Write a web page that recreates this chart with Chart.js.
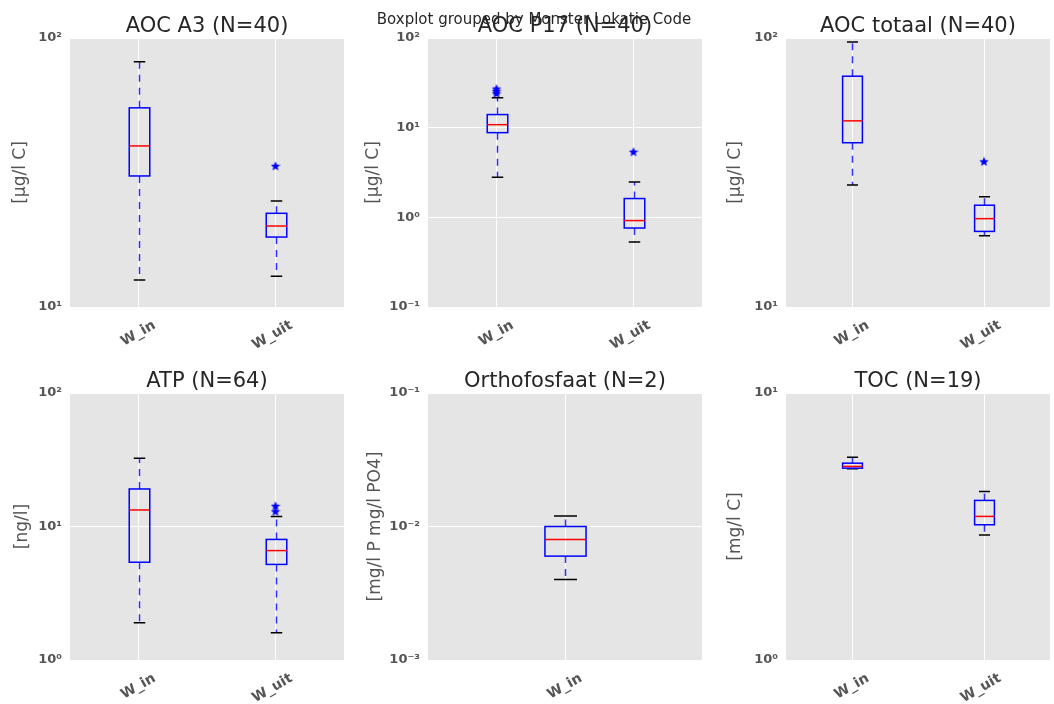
<!DOCTYPE html>
<html>
<head>
<meta charset="utf-8">
<script src="https://cdn.jsdelivr.net/npm/chart.js@4.4.1/dist/chart.umd.min.js"></script>
<style>
  html, body { margin: 0; padding: 0; background: #fff; }
  #fig { position: relative; width: 1054px; height: 704px; overflow: hidden; }
  #fig canvas { position: absolute; }
  #suptitle { position: absolute; left: 7px; width: 1054px; top: 10px; line-height: 17px; text-align: center;
              font: 15px "DejaVu Sans"; color: #262626; z-index: 2; }
</style>
</head>
<body>
<div id="fig">
  <div id="suptitle">Boxplot grouped by Monster Lokatie Code</div>
</div>
<script>
// categories per panel
const categories = ['W_in', 'W_uit'];
const orthoCategories = ['W_in'];

const titles = ['AOC A3 (N=40)', 'AOC P17 (N=40)', 'AOC totaal (N=40)', 'ATP (N=64)', 'Orthofosfaat (N=2)', 'TOC (N=19)'];
const yLabels = ['[μg/l C]', '[μg/l C]', '[μg/l C]', '[ng/l]', '[mg/l P mg/l PO4]', '[mg/l C]'];

// box stats per category: [lower whisker, Q1, median, Q3, upper whisker]
const a3Box = [[12.6, 30.7, 39.7, 55.0, 81.6], [13.0, 18.2, 20.0, 22.3, 24.8]];
const a3Fliers = [[], [33.5]];
const p17Box = [[2.8, 8.8, 10.8, 14.0, 21.6], [0.53, 0.76, 0.92, 1.62, 2.47]];
const p17Fliers = [[24.2, 25.8, 27.3], [5.4]];
const totaalBox = [[28.4, 40.8, 49.2, 72.1, 96.6], [18.4, 19.1, 21.3, 23.9, 25.7]];
const totaalFliers = [[], [34.8]];
const atpBox = [[1.9, 5.4, 13.3, 19.1, 32.4], [1.6, 5.2, 6.6, 8.0, 11.9]];
const atpFliers = [[], [13.0, 14.3]];
const orthoBox = [[0.004, 0.006, 0.008, 0.010, 0.012]];
const orthoFliers = [[]];
const tocBox = [[5.2, 5.23, 5.31, 5.46, 5.75], [2.94, 3.21, 3.45, 3.96, 4.28]];
const tocFliers = [[], []];

// decade ticks and their labels
const a3Ticks = [10, 100];
const p17Ticks = [0.1, 1, 10, 100];
const atpTicks = [1, 10, 100];
const orthoTicks = [0.001, 0.01, 0.1];
const tocTicks = [1, 10];
const a3TickLabels = ['10¹', '10²'];
const p17TickLabels = ['10⁻¹', '10⁰', '10¹', '10²'];
const atpTickLabels = ['10⁰', '10¹', '10²'];
const orthoTickLabels = ['10⁻³', '10⁻²', '10⁻¹'];
const tocTickLabels = ['10⁰', '10¹'];

const panels = [
  { cats: categories, box: a3Box, fliers: a3Fliers, ticks: a3Ticks, tickLabels: a3TickLabels },
  { cats: categories, box: p17Box, fliers: p17Fliers, ticks: p17Ticks, tickLabels: p17TickLabels },
  { cats: categories, box: totaalBox, fliers: totaalFliers, ticks: a3Ticks, tickLabels: a3TickLabels },
  { cats: categories, box: atpBox, fliers: atpFliers, ticks: atpTicks, tickLabels: atpTickLabels },
  { cats: orthoCategories, box: orthoBox, fliers: orthoFliers, ticks: orthoTicks, tickLabels: orthoTickLabels },
  { cats: categories, box: tocBox, fliers: tocFliers, ticks: tocTicks, tickLabels: tocTickLabels }
];

// canvas left, top, width, height | plot left, top, right, bottom | y-label centre x
const frames = [
  [0, 0, 350, 352, 70, 38, 344, 307, 20.5],
  [350, 0, 358, 352, 428, 38, 702, 307, 24],
  [708, 0, 346, 352, 786, 38, 1050, 307, 28],
  [0, 352, 350, 352, 70, 393, 344, 660, 22.5],
  [350, 352, 358, 352, 428, 393, 702, 660, 26],
  [708, 352, 346, 352, 786, 393, 1050, 660, 28]
];

function starImage(size, color) {
  const c = document.createElement('canvas');
  c.width = size; c.height = size;
  const g = c.getContext('2d');
  const r = size / 2, ri = r * 0.45;
  g.beginPath();
  for (let k = 0; k < 10; k++) {
    const a = -Math.PI / 2 + k * Math.PI / 5;
    const rr = k % 2 ? ri : r;
    g.lineTo(r + rr * Math.cos(a), r + 0.5 + rr * Math.sin(a));
  }
  g.closePath();
  g.fillStyle = color;
  g.fill();
  return c;
}

const boxPlugin = {
  id: 'boxes',
  beforeDraw(chart) {
    const { ctx, chartArea: a } = chart;
    ctx.save();
    ctx.fillStyle = '#e5e5e5';
    ctx.fillRect(a.left, a.top, a.right - a.left, a.bottom - a.top);
    ctx.restore();
  },
  afterDatasetsDraw(chart, args, opts) {
    const { ctx, scales: { x, y } } = chart;
    const band = (x.right - x.left) / opts.stats.length;
    opts.stats.forEach((s, i) => {
      const cx = Math.round(x.getPixelForValue(i)) + 0.5;
      const hw = band * 0.075, cw = band * 0.042;
      const [lo, q1, med, q3, hi] = s.map(v => y.getPixelForValue(v));
      ctx.save();
      ctx.lineWidth = 1.5;
      // whiskers
      ctx.strokeStyle = 'rgba(0,0,255,0.8)';
      ctx.setLineDash([7, 6]);
      ctx.beginPath();
      ctx.moveTo(cx, q1); ctx.lineTo(cx, lo);
      ctx.moveTo(cx, q3); ctx.lineTo(cx, hi);
      ctx.stroke();
      ctx.setLineDash([]);
      // caps
      ctx.strokeStyle = '#000';
      ctx.beginPath();
      ctx.moveTo(cx - cw, lo); ctx.lineTo(cx + cw, lo);
      ctx.moveTo(cx - cw, hi); ctx.lineTo(cx + cw, hi);
      ctx.stroke();
      // box
      ctx.strokeStyle = '#0000ff';
      ctx.strokeRect(cx - hw, q3, hw * 2, q1 - q3);
      // median
      ctx.strokeStyle = '#ff0000';
      ctx.beginPath();
      ctx.moveTo(cx - hw, med); ctx.lineTo(cx + hw, med);
      ctx.stroke();
      ctx.restore();
    });
  },
  afterDraw(chart, args, opts) {
    const { ctx, chartArea: a } = chart;
    ctx.save();
    ctx.font = '21px "DejaVu Sans"';
    ctx.fillStyle = '#262626';
    ctx.textAlign = 'center';
    ctx.textBaseline = 'alphabetic';
    ctx.fillText(opts.title, (a.left + a.right) / 2, a.top - 6);
    ctx.restore();
  }
};

const fig = document.getElementById('fig');
const star = starImage(10, '#0000ff');

panels.forEach((p, i) => {
  const [cl, ct, cw, ch, pl, pt, pr, pb, lx] = frames[i];
  const cv = document.createElement('canvas');
  cv.width = cw; cv.height = ch;
  cv.style.left = cl + 'px'; cv.style.top = ct + 'px';
  cv.style.width = cw + 'px'; cv.style.height = ch + 'px';
  fig.appendChild(cv);

  const flierData = [];
  p.fliers.forEach((arr, k) => arr.forEach(v => flierData.push({ x: p.cats[k], y: v })));

  new Chart(cv, {
    type: 'line',
    data: {
      labels: p.cats,
      datasets: [{ data: flierData, showLine: false, pointStyle: star, pointRadius: 4, borderWidth: 0 }]
    },
    options: {
      responsive: false,
      animation: false,
      events: [],
      layout: { padding: { left: 0, top: pt - ct, right: cl + cw - pr, bottom: 0 } },
      plugins: {
        legend: { display: false },
        tooltip: { enabled: false },
        boxes: { stats: p.box, title: titles[i] }
      },
      scales: {
        x: {
          type: 'category',
          offset: true,
          grid: { color: '#ffffff', lineWidth: 1, drawTicks: false },
          border: { display: false },
          ticks: {
            minRotation: 30, maxRotation: 30, labelOffset: 16, padding: 10,
            color: '#555', font: { family: 'DejaVu Sans', size: 14, weight: 'bold' }
          },
          afterFit: s => { s.height = ct + ch - pb; }
        },
        y: {
          type: 'logarithmic',
          min: p.ticks[0],
          max: p.ticks[p.ticks.length - 1],
          grid: { color: '#ffffff', lineWidth: 1, drawTicks: false },
          border: { display: false },
          afterBuildTicks: s => { s.ticks = p.ticks.map(v => ({ value: v })); },
          ticks: {
            autoSkip: false, padding: 8, color: '#555',
            font: { family: 'DejaVu Sans', size: 13, weight: 'bold' },
            callback: (v, k) => p.tickLabels[k]
          },
          title: {
            display: true, text: yLabels[i], color: '#555',
            font: { family: 'DejaVu Sans', size: 17 },
            padding: { top: lx - 10.2, bottom: 0 }
          },
          afterFit: s => { s.width = pl - cl; }
        }
      }
    },
    plugins: [boxPlugin]
  });
});
</script>
</body>
</html>
